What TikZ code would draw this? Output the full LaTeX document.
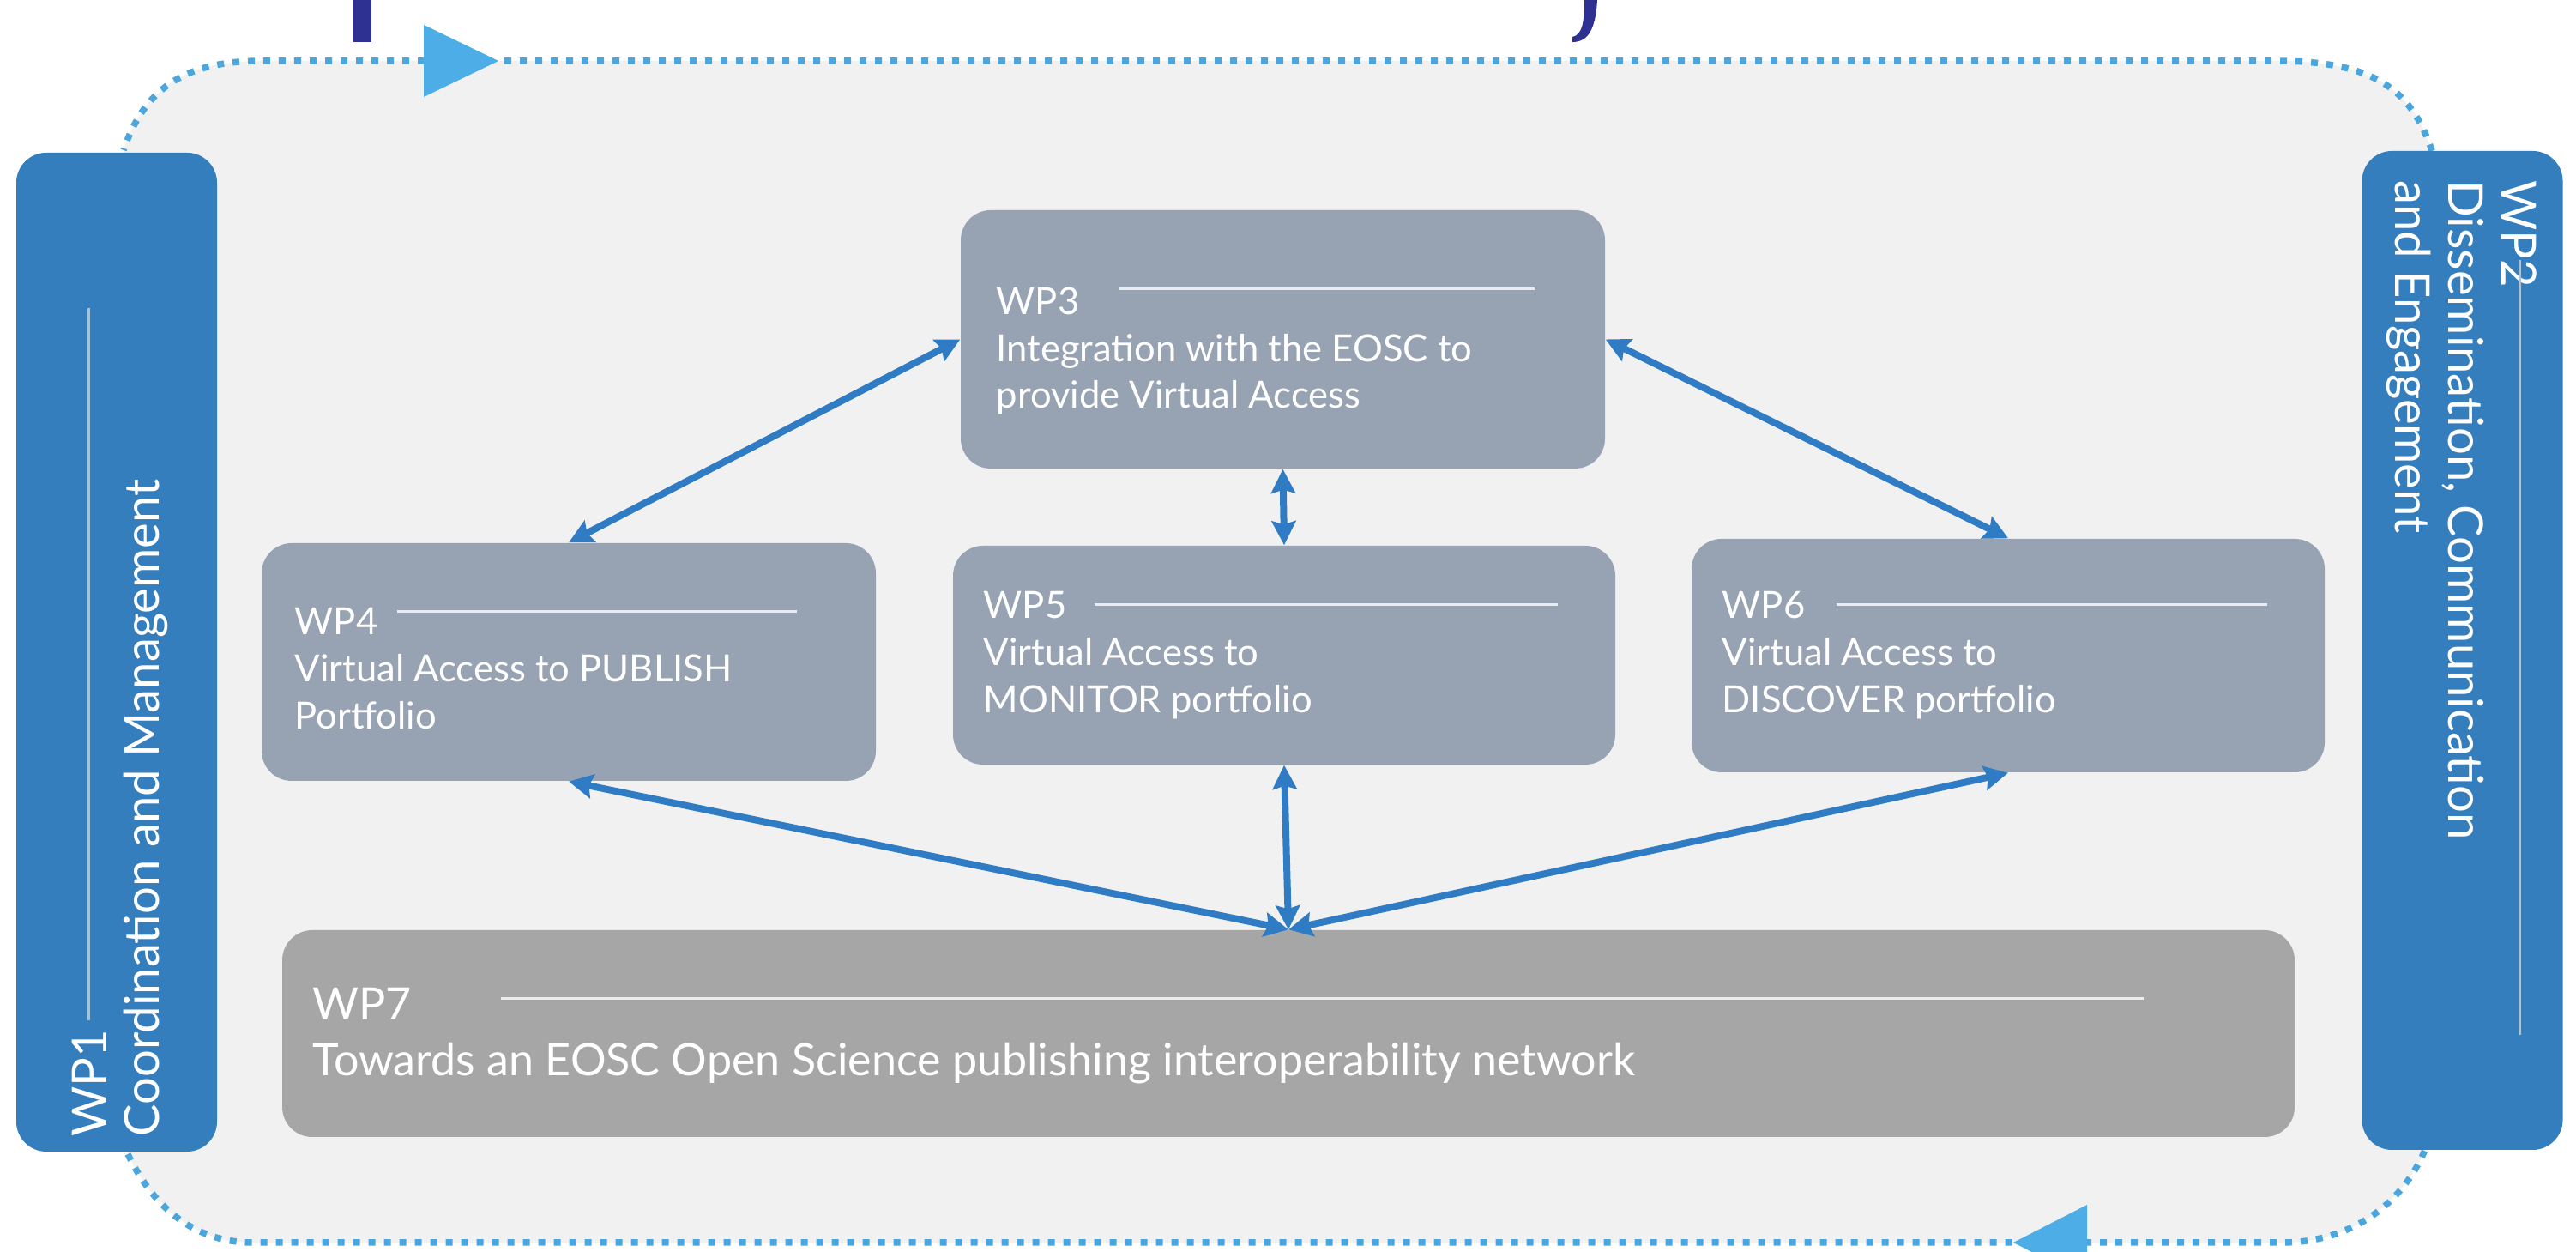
\documentclass[tikz,border=0pt]{standalone}
\usepackage{fontspec}
\newfontfamily\wpfont{Lato}
\usetikzlibrary{positioning, arrows.meta}

\definecolor{sideblue}{HTML}{357EBE}
\definecolor{wpgrey}{HTML}{97A3B3}
\definecolor{wpdark}{HTML}{A6A6A6}
\definecolor{loopblue}{HTML}{4BA6DE}
\definecolor{tipblue}{HTML}{4DADE6}
\definecolor{linkblue}{HTML}{2F7BC4}
\definecolor{panel}{HTML}{F1F1F2}
\definecolor{titleblue}{HTML}{2E3192}

\begin{document}
\begin{tikzpicture}[>={Stealth[length=0.28cm, width=0.28cm, inset=0.04cm]},
    sidebox/.style={fill=sideblue, rounded corners=0.35cm, minimum width=2.34cm, minimum height=11.64cm},
    wpbox/.style={fill=wpgrey, rounded corners=0.35cm},
    wptext/.style={text=white, anchor=north west, inner sep=0pt, align=left, font=\wpfont\fontsize{12.4}{15.6}\selectfont},
    sidetext/.style={wptext, font=\wpfont\fontsize{16}{17.6}\selectfont},
    sepline/.style={draw=white!80!wpgrey, line width=0.03cm},
    link/.style={<->, draw=linkblue, line width=0.08cm},
    loop/.style={draw=loopblue, line width=0.075cm, dash pattern=on 0.08cm off 0.1cm}]
    \useasboundingbox[fill=white] (0,0) rectangle (30.03,14.59);

    % dotted cycle round the panel
    \path[fill=panel] (1.49,1.14) .. controls (1.75,0.6) and (2.2,0.11) .. (2.95,0.11)
        -- (26.6,0.11) .. controls (27.4,0.11) and (28.0,0.55) .. (28.27,1.19)
        -- (28.35,12.83) .. controls (28.1,13.6) and (27.6,13.88) .. (26.52,13.88)
        -- (3.06,13.88) .. controls (2.2,13.88) and (1.7,13.6) .. (1.44,12.84) -- cycle;
    \draw[loop] (1.49,1.14) .. controls (1.75,0.6) and (2.2,0.11) .. (2.95,0.11) -- (23.5,0.11);
    \draw[loop] (24.3,0.11) -- (26.6,0.11) .. controls (27.4,0.11) and (28.0,0.55) .. (28.27,1.19);
    \draw[loop] (28.35,12.83) .. controls (28.1,13.6) and (27.6,13.88) .. (26.52,13.88) -- (5.8,13.88);
    \draw[loop] (4.95,13.88) -- (3.06,13.88) .. controls (2.2,13.88) and (1.7,13.6) .. (1.44,12.84);
    \fill[tipblue] (4.94,14.30) -- (5.81,13.88) -- (4.94,13.46) -- cycle;
    \fill[tipblue] (23.47,0.11) -- (24.33,0.55) -- (24.33,0) -- (23.685,0) -- cycle;

    % cut-off title
    \fill[titleblue] (4.12,14.59) rectangle (4.33,14.10);
    \fill[titleblue] (18.47,14.59) -- (18.62,14.59) .. controls (18.6,14.26) and (18.52,14.10) .. (18.33,14.10)
        -- (18.33,14.16) .. controls (18.44,14.18) and (18.47,14.32) .. cycle;

    % work packages
    \node[sidebox] (wp1) at (1.36,6.99) {};
    \node[sidebox] (wp2) at (28.705,7.01) {};
    \node[wpbox, minimum width=7.51cm, minimum height=3.01cm] (wp3) at (14.955,10.635) {};
    \node[wpbox, minimum width=7.16cm, minimum height=2.77cm] (wp4) at (6.63,6.875) {};
    \node[wpbox, minimum width=7.72cm, minimum height=2.55cm] (wp5) at (14.97,6.955) {};
    \node[wpbox, minimum width=7.38cm, minimum height=2.72cm] (wp6) at (23.41,6.95) {};
    \node[wpbox, fill=wpdark, minimum width=23.46cm, minimum height=2.41cm] (wp7) at (15.02,2.545) {};

    \node[sidetext, rotate=90] (wp1txt) at (0.83,1.34) {WP1\\Coordination and Management};
    \node[sidetext, rotate=-90] (wp2txt) at (29.58,12.49) {WP2\\Dissemination, Communication\\and Engagement};
    \node[wptext] (wp3txt) at (11.61,11.25) {WP3\\Integration with the EOSC to\\provide Virtual Access};
    \node[wptext] (wp4txt) at (3.43,7.51) {WP4\\Virtual Access to PUBLISH\\Portfolio};
    \node[wptext] (wp5txt) at (11.46,7.70) {WP5\\Virtual Access to\\MONITOR portfolio};
    \node[wptext] (wp6txt) at (20.07,7.70) {WP6\\Virtual Access to\\DISCOVER portfolio};
    \node[wptext, font=\wpfont\fontsize{14.8}{18.5}\selectfont] (wp7txt) at (3.64,3.08)
        {WP7\\Towards an EOSC Open Science publishing interoperability network};

    \draw[sepline, draw=white!55!sideblue] (1.03,2.70) -- (1.03,11.0);
    \draw[sepline, draw=white!55!sideblue] (29.37,11.56) -- (29.37,2.53);
    \draw[sepline] (13.04,11.22) -- (17.89,11.22);
    \draw[sepline] (4.63,7.46) -- (9.29,7.46);
    \draw[sepline] (12.76,7.54) -- (18.16,7.54);
    \draw[sepline] (21.41,7.54) -- (26.43,7.54);
    \draw[sepline, draw=white!80!wpdark] (5.84,2.95) -- (24.99,2.95);

    % links
    \draw[link] (wp4.north) -- (wp3.west);
    \draw[link] (wp3.east) -- (wp6.north);
    \draw[link] (wp3.south) -- (wp5.north);
    \draw[link] (wp4.south) -- (wp7.north);
    \draw[link] (wp5.south) -- (wp7.north);
    \draw[link] (wp6.south) -- (wp7.north);
\end{tikzpicture}
\end{document}
